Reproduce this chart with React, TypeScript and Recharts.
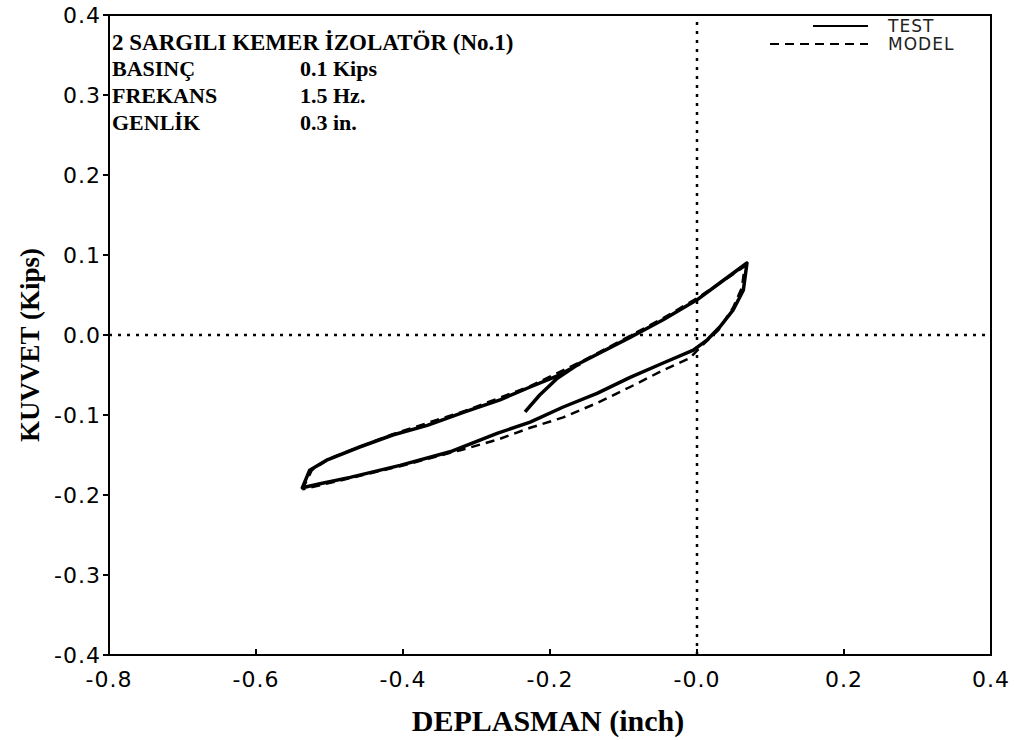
import React from "react";
import { ComposedChart, Line, XAxis, YAxis, ReferenceLine, ReferenceArea } from "recharts";

// deney (TEST) halkası: deplasman (inch) / kuvvet (Kips)
const testDisp = [-0.234, -0.214, -0.19, -0.159, -0.091, -0.046, 0.0, 0.031, 0.068, 0.063, 0.049, 0.031, 0.014, -0.005, -0.046, -0.091, -0.136, -0.182, -0.227, -0.272, -0.336, -0.404, -0.472, -0.513, -0.537, -0.527, -0.503, -0.459, -0.414, -0.367, -0.316, -0.268, -0.227, -0.19, -0.159];
const testForce = [-0.096, -0.075, -0.054, -0.035, -0.003, 0.019, 0.044, 0.065, 0.09, 0.056, 0.031, 0.01, -0.006, -0.019, -0.035, -0.053, -0.073, -0.09, -0.109, -0.123, -0.146, -0.163, -0.178, -0.186, -0.191, -0.169, -0.156, -0.14, -0.125, -0.113, -0.096, -0.081, -0.065, -0.051, -0.036];

// model halkası
const modelDisp = [-0.537, -0.524, -0.499, -0.414, -0.316, -0.227, -0.159, -0.091, -0.046, 0.0, 0.038, 0.065, 0.061, 0.049, 0.029, 0.007, -0.01, -0.046, -0.091, -0.136, -0.182, -0.227, -0.272, -0.322, -0.404, -0.472, -0.537];
const modelForce = [-0.193, -0.169, -0.154, -0.124, -0.095, -0.064, -0.034, -0.001, 0.021, 0.046, 0.069, 0.086, 0.059, 0.034, 0.006, -0.013, -0.029, -0.044, -0.065, -0.085, -0.103, -0.116, -0.131, -0.144, -0.164, -0.179, -0.193];

const xTicks = [-0.8, -0.6, -0.4, -0.2, 0, 0.2, 0.4];
const xTickLabels = ["-0.8", "-0.6", "-0.4", "-0.2", "-0.0", "0.2", "0.4"];
const yTicks = [-0.4, -0.3, -0.2, -0.1, 0, 0.1, 0.2, 0.3, 0.4];

const infoLabels = ["BASINÇ", "FREKANS", "GENLİK"];
const infoValues = ["0.1 Kips", "1.5 Hz.", "0.3 in."];

const testData = testDisp.map((x, i) => ({ x, y: testForce[i] }));
const modelData = modelDisp.map((x, i) => ({ x, y: modelForce[i] }));

const tickFont = { fontFamily: "DejaVu Sans", fontSize: 22, fill: "#000", letterSpacing: 1 };
const serif = "'Liberation Serif', 'Times New Roman', serif";

export default function App() {
    return (
        <div style={{ position: "absolute", left: 0, top: 0, width: 1014, height: 740, background: "#fff" }}>
            <ComposedChart width={1014} height={740} margin={{ top: 15, right: 23, left: 0, bottom: 0 }}>
                <XAxis
                    type="number"
                    dataKey="x"
                    domain={[-0.8, 0.4]}
                    ticks={xTicks}
                    allowDataOverflow
                    height={85}
                    tickFormatter={(v: number) => xTickLabels[xTicks.indexOf(v)] ?? String(v)}
                    tick={tickFont}
                    tickSize={-6}
                    tickMargin={22}
                    axisLine={{ stroke: "#000", strokeWidth: 2 }}
                    tickLine={{ stroke: "#000", strokeWidth: 2 }}
                />
                <YAxis
                    type="number"
                    dataKey="y"
                    domain={[-0.4, 0.4]}
                    ticks={yTicks}
                    allowDataOverflow
                    width={109}
                    tickFormatter={(v: number) => (Math.abs(v) < 1e-9 ? "0.0" : v.toFixed(1))}
                    tick={tickFont}
                    tickSize={6}
                    tickMargin={2}
                    axisLine={{ stroke: "#000", strokeWidth: 2 }}
                    tickLine={{ stroke: "#000", strokeWidth: 2 }}
                />
                <ReferenceArea x1={-0.8} x2={0.4} y1={-0.4} y2={0.4} fill="none" stroke="#000" strokeWidth={2} />
                <ReferenceLine x={0} stroke="#000" strokeWidth={2.5} strokeDasharray="3 6" />
                <ReferenceLine y={0} stroke="#000" strokeWidth={2.5} strokeDasharray="3 6" />
                <Line
                    data={modelData}
                    dataKey="y"
                    type="linear"
                    stroke="#000"
                    strokeWidth={2.5}
                    strokeDasharray="9 6"
                    dot={false}
                    activeDot={false}
                    isAnimationActive={false}
                />
                <Line
                    data={testData}
                    dataKey="y"
                    type="linear"
                    stroke="#000"
                    strokeWidth={3.5}
                    strokeLinejoin="round"
                    dot={false}
                    activeDot={false}
                    isAnimationActive={false}
                />
            </ComposedChart>

            <svg width={1014} height={740} style={{ position: "absolute", left: 0, top: 0, pointerEvents: "none" }}>
                {/* başlık ve parametreler */}
                <text x={112} y={50} fontFamily={serif} fontWeight="bold" fontSize={23}>
                    2 SARGILI KEMER İZOLATÖR (No.1)
                </text>
                {infoLabels.map((t, i) => (
                    <text key={t} x={112} y={76 + i * 27} fontFamily={serif} fontWeight="bold" fontSize={22}>
                        {t}
                    </text>
                ))}
                {infoValues.map((t, i) => (
                    <text key={t} x={300} y={76 + i * 27} fontFamily={serif} fontWeight="bold" fontSize={22}>
                        {t}
                    </text>
                ))}

                {/* legend */}
                <line x1={813} x2={868} y1={26} y2={26} stroke="#000" strokeWidth={2} />
                <text x={888} y={32} fontFamily="DejaVu Sans" fontSize={17} fill="#222" letterSpacing={1}>TEST</text>
                <line x1={770} x2={868} y1={44} y2={44} stroke="#000" strokeWidth={2} strokeDasharray="9 6" />
                <text x={888} y={50} fontFamily="DejaVu Sans" fontSize={17} fill="#222" letterSpacing={1}>MODEL</text>

                {/* eksen başlıkları */}
                <text x={548} y={731} textAnchor="middle" fontFamily={serif} fontWeight="bold" fontSize={30}>
                    DEPLASMAN (inch)
                </text>
                <text
                    x={30}
                    y={345}
                    textAnchor="middle"
                    dominantBaseline="central"
                    transform="rotate(-90 30 345)"
                    fontFamily={serif}
                    fontWeight="bold"
                    fontSize={27}
                >
                    KUVVET (Kips)
                </text>
            </svg>
        </div>
    );
}
